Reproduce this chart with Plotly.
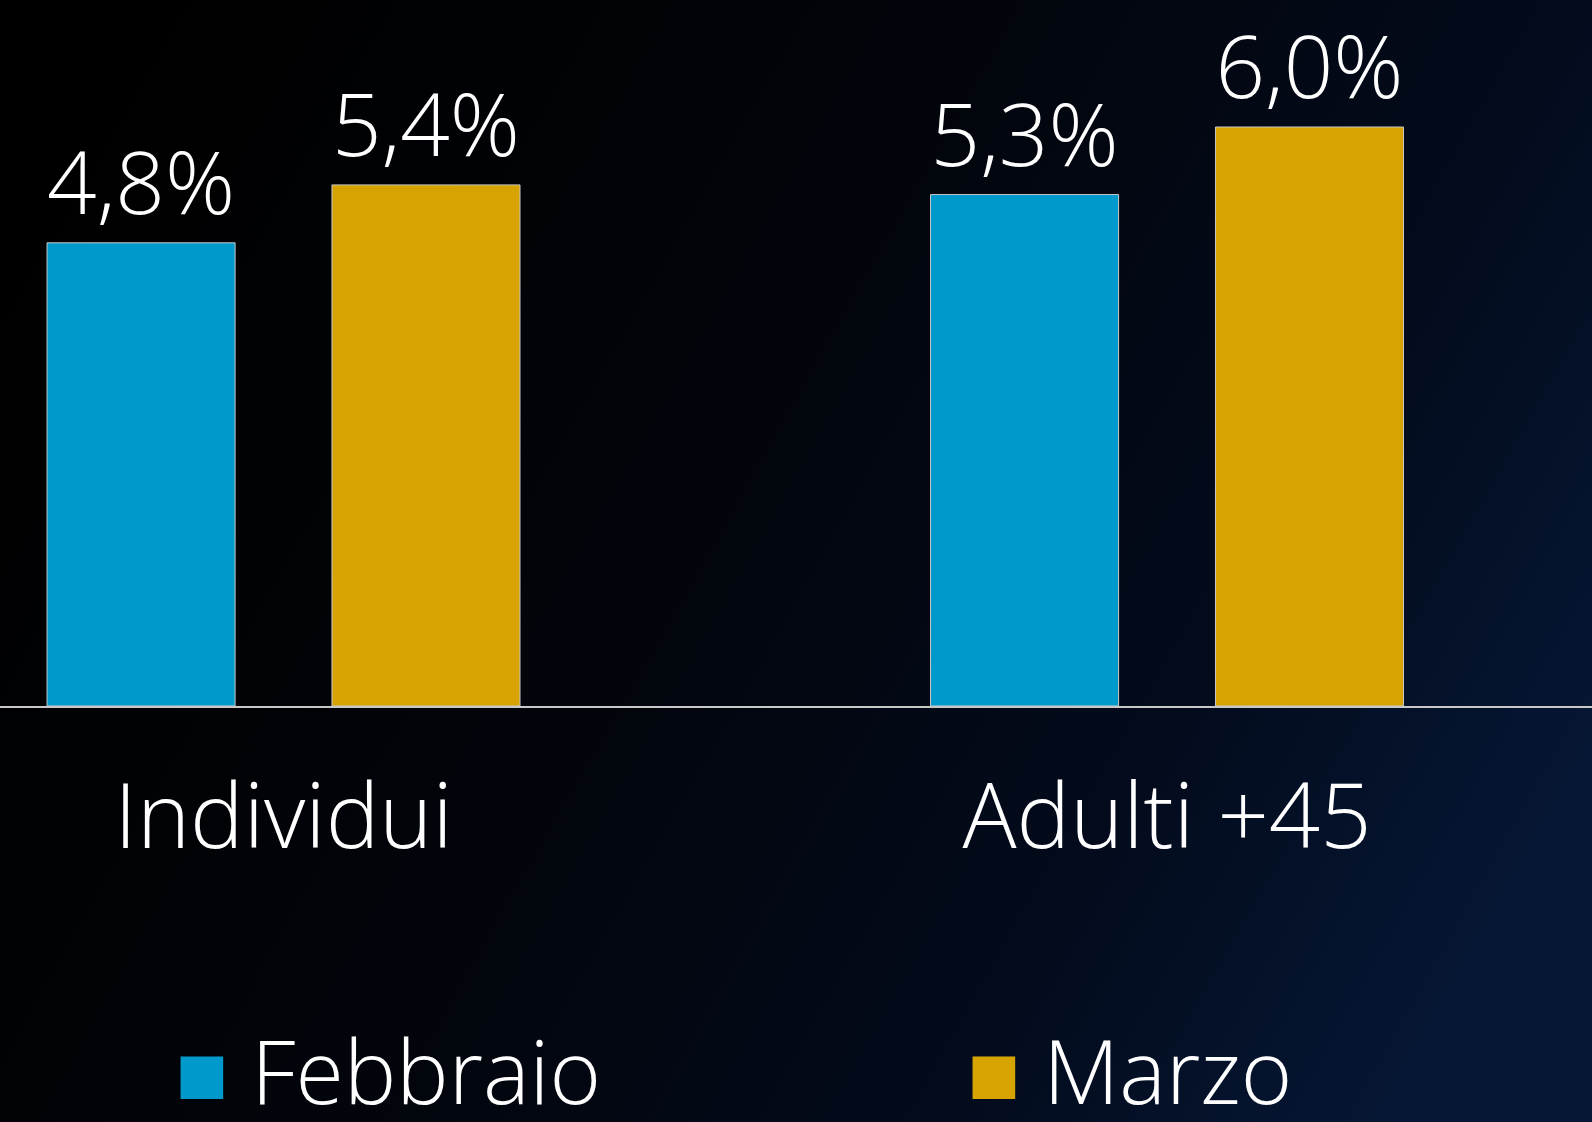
import base64

import plotly.graph_objects as go

CATEGORIES = ["Individui", "Adulti +45"]
FEBBRAIO = [4.8, 5.3]
MARZO = [5.4, 6.0]
SERIES_NAMES = ["Febbraio", "Marzo"]
COLORS = ["#0099cc", "#d6a300"]

FONT = "Open Sans, Lato, Arial, sans-serif"
W, H = 1592, 1122
PLOT_H = 706


def pct(v):
    return f"{v:.1f}%".replace(".", ",")


def gradient_uri():
    svg = (
        "<svg xmlns='http://www.w3.org/2000/svg' width='400' height='280' preserveAspectRatio='none'>"
        "<defs><linearGradient id='g' x1='0' y1='0.3' x2='1' y2='0.7'>"
        "<stop offset='0' stop-color='#000000'/>"
        "<stop offset='0.45' stop-color='#02050c'/>"
        "<stop offset='0.75' stop-color='#030b1c'/>"
        "<stop offset='1' stop-color='#061735'/>"
        "</linearGradient></defs>"
        "<rect width='400' height='280' fill='url(#g)'/></svg>"
    )
    return "data:image/svg+xml;base64," + base64.b64encode(svg.encode()).decode()


fig = go.Figure()
for name, vals, color in zip(SERIES_NAMES, [FEBBRAIO, MARZO], COLORS):
    fig.add_bar(
        x=CATEGORIES,
        y=vals,
        name=name,
        showlegend=False,
        marker=dict(color=color, line=dict(color="#c8c8c8", width=1)),
        text=[pct(v) for v in vals],
        textposition="outside",
        cliponaxis=False,
        textfont=dict(family=FONT, size=108, color="white", weight=300),
    )

# legend entries with large square glyphs
for name, color in zip(SERIES_NAMES, COLORS):
    fig.add_scatter(
        x=[None],
        y=[None],
        mode="markers",
        marker=dict(color="rgba(0,0,0,0)"),
        name=f"<span style='color:{color}'>■</span> {name}",
    )

fig.update_layout(
    width=W,
    height=H,
    margin=dict(l=0, r=0, t=0, b=H - PLOT_H, autoexpand=False),
    paper_bgcolor="#000000",
    plot_bgcolor="rgba(0,0,0,0)",
    barmode="group",
    bargap=0.355,
    bargroupgap=0.34,
    font=dict(family=FONT, color="white", weight=300),
    legend=dict(
        orientation="h",
        x=0.085,
        xanchor="left",
        y=-0.425,
        yanchor="top",
        font=dict(size=88, family=FONT, color="white", weight=300),
        entrywidth=747,
        entrywidthmode="pixels",
        itemwidth=30,
        bgcolor="rgba(0,0,0,0)",
    ),
    images=[
        dict(
            source=gradient_uri(),
            xref="paper",
            yref="paper",
            x=0,
            y=1,
            sizex=1,
            sizey=H / PLOT_H,
            xanchor="left",
            yanchor="top",
            sizing="stretch",
            layer="below",
        )
    ],
)
fig.update_xaxes(
    range=[-0.3209, 1.481],
    showline=True,
    linecolor="#c8c8c8",
    linewidth=2,
    showgrid=False,
    zeroline=False,
    ticks="",
    tickfont=dict(size=90, family=FONT, color="white", weight=300),
    ticklabelstandoff=32,
)
fig.update_yaxes(range=[0, PLOT_H / 96.5], visible=False, showgrid=False, zeroline=False)

fig.write_html(
    "out.html",
    config={"displayModeBar": False},
    post_script="document.body.style.margin='0';",
)
